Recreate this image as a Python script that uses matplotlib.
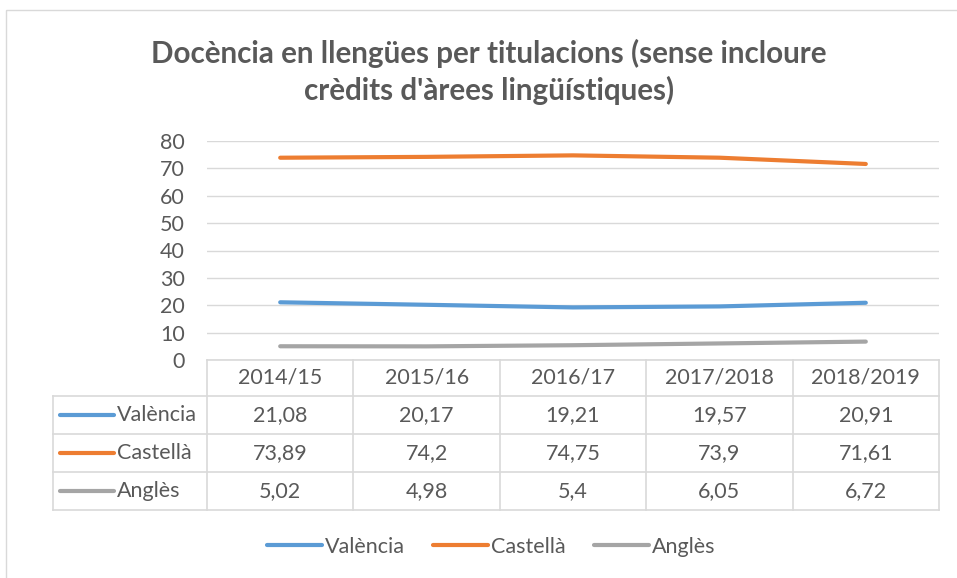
import matplotlib.pyplot as plt
from matplotlib.patches import Rectangle
from matplotlib.lines import Line2D

cursos = ['2014/15', '2015/16', '2016/17', '2017/2018', '2018/2019']
valencia = [21.08, 20.17, 19.21, 19.57, 20.91]
castella = [73.89, 74.2, 74.75, 73.9, 71.61]
angles = [5.02, 4.98, 5.4, 6.05, 6.72]
series_noms = ['València', 'Castellà', 'Anglès']
colors = ['#5B9BD5', '#ED7D31', '#A5A5A5']
txt_col = '#595959'
grid_col = '#D9D9D9'

plt.rcParams['font.family'] = ['Lato', 'DejaVu Sans']

W, H = 957, 578
fig = plt.figure(figsize=(W/100, H/100), dpi=100)

# overlay in pixel coords for border + table
ov = fig.add_axes([0, 0, 1, 1])
ov.set_xlim(0, W); ov.set_ylim(H, 0); ov.axis('off')
ov.add_patch(Rectangle((6, 10), W, H, fill=False, ec=grid_col, lw=1))

# main plot area
x0, x1, ytop, ybot = 207, 939, 141, 360
ax = fig.add_axes([x0/W, 1 - ybot/H, (x1-x0)/W, (ybot-ytop)/H])
ax.patch.set_alpha(0)
xs = range(len(cursos))
for vals, c in zip([valencia, castella, angles], colors):
    ax.plot(xs, vals, color=c, lw=3, solid_capstyle='round')
ax.set_xlim(-0.5, len(cursos) - 0.5)
ax.set_ylim(0, 80)
ax.set_yticks(range(0, 81, 10))
ax.set_xticks([])
ax.grid(axis='y', color=grid_col, lw=1)
ax.set_axisbelow(True)
for s in ax.spines.values():
    s.set_visible(False)
ax.tick_params(axis='y', length=0, labelsize=15.5, labelcolor=txt_col, pad=16)

fig.text(489/W, 1 - 72/H, "Docència en llengües per titulacions (sense incloure\ncrèdits d'àrees lingüístiques)",
         ha='center', va='center', fontsize=21.3, fontweight='bold', color=txt_col, linespacing=1.3)

# data table
col_edges = [x0 + i*(x1-x0)/len(cursos) for i in range(len(cursos)+1)]
row_edges = [360, 396, 434, 472, 510]
tl = 53
lw = 1.2
ov.plot([x0, x1], [row_edges[0]]*2, color=grid_col, lw=lw)
for xe in col_edges:
    ov.plot([xe, xe], [row_edges[0], row_edges[-1]], color=grid_col, lw=lw)
for yr in row_edges[1:]:
    ov.plot([tl, x1], [yr, yr], color=grid_col, lw=lw)
ov.plot([tl, tl], [row_edges[1], row_edges[-1]], color=grid_col, lw=lw)
for i, c in enumerate(cursos):
    ov.text((col_edges[i]+col_edges[i+1])/2, (row_edges[0]+row_edges[1])/2, c,
            ha='center', va='center', fontsize=15.5, color=txt_col)
for r, (nom, vals, c) in enumerate(zip(series_noms, [valencia, castella, angles], colors)):
    yc = (row_edges[r+1] + row_edges[r+2]) / 2
    ov.plot([60, 114], [yc, yc], color=c, lw=3, solid_capstyle='round')
    ov.text(117, yc, nom, ha='left', va='center', fontsize=15.5, color=txt_col)
    for i, v in enumerate(vals):
        ov.text((col_edges[i]+col_edges[i+1])/2, yc, ('%g' % v).replace('.', ','),
                ha='center', va='center', fontsize=15.5, color=txt_col)

handles = [Line2D([], [], color=c, lw=3, solid_capstyle='round') for c in colors]
fig.legend(handles, series_noms, loc='center', bbox_to_anchor=(491/W, 1 - 547/H), ncol=3,
           frameon=False, fontsize=15.5, labelcolor=txt_col, handlelength=2.55,
           handletextpad=0.15, columnspacing=1.3)

fig.savefig('out.png', dpi=100)
